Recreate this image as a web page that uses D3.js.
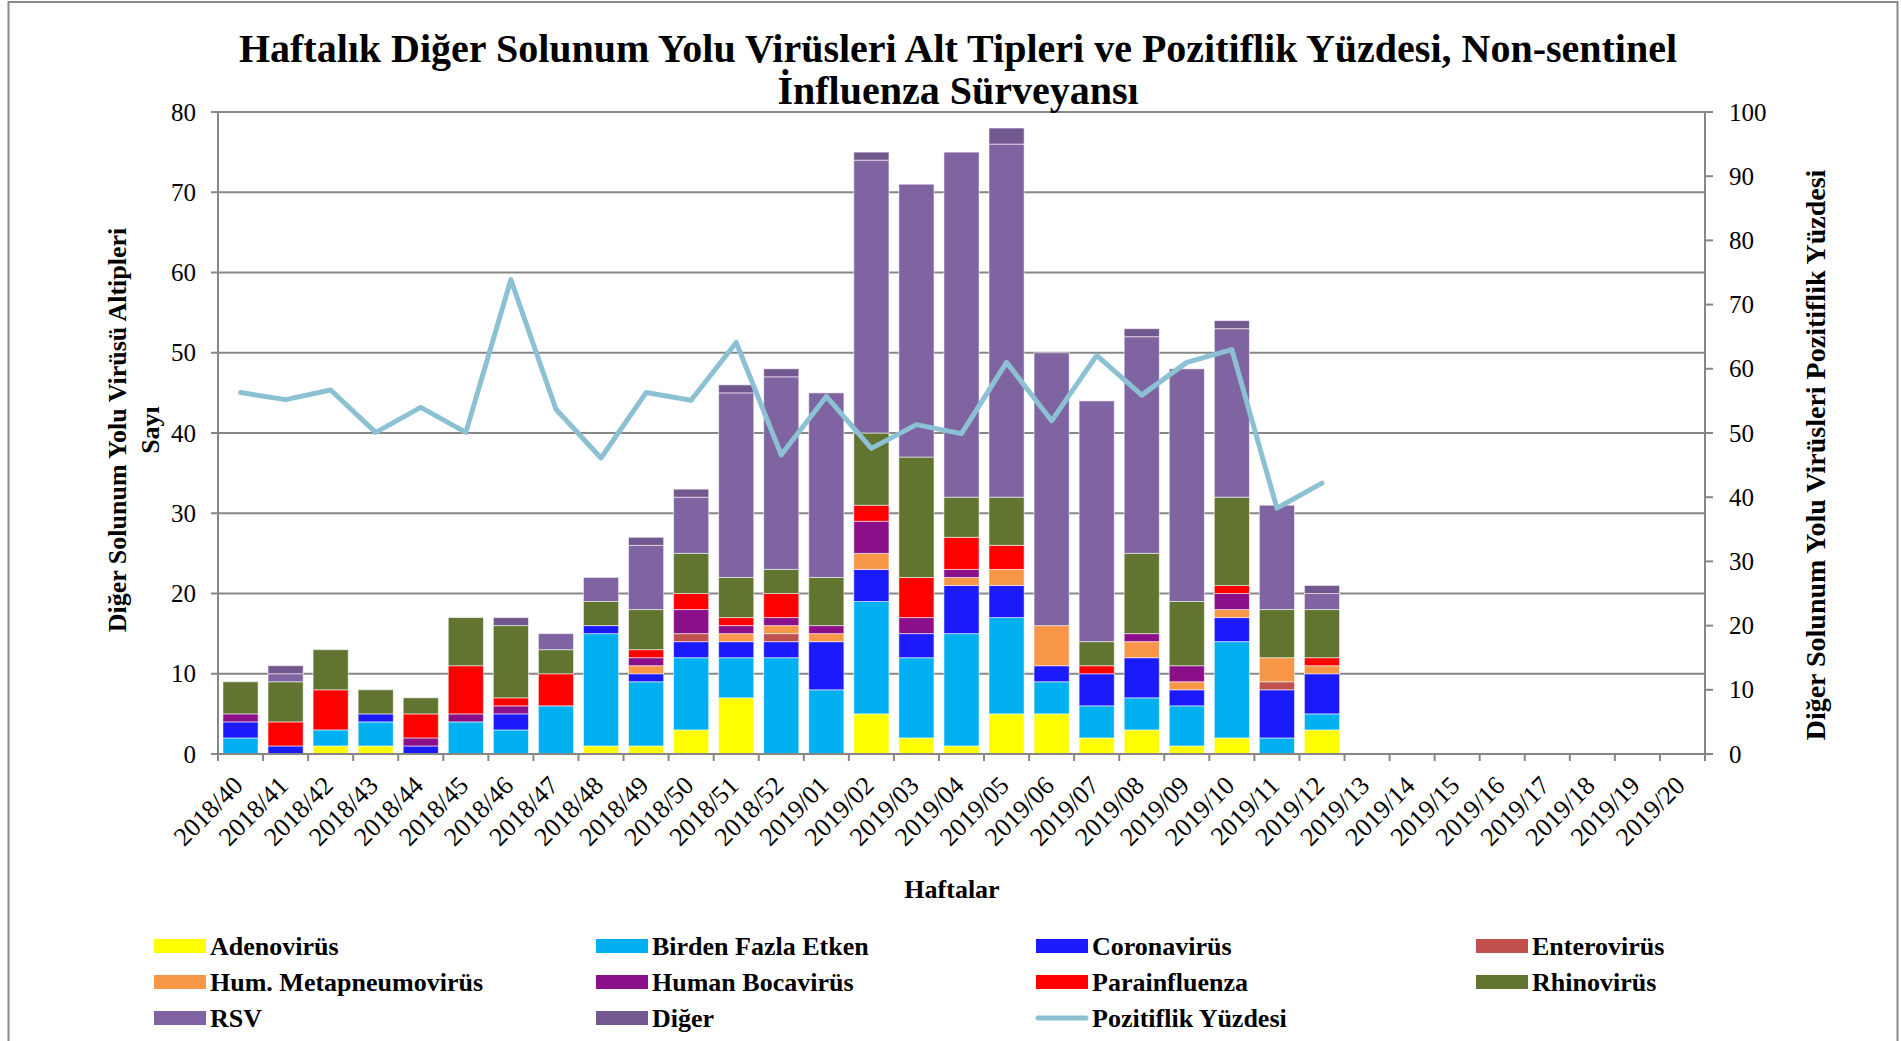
<!DOCTYPE html>
<html>
<head>
<meta charset="utf-8">
<script src="https://cdn.jsdelivr.net/npm/d3@7/dist/d3.min.js"></script>
<style>
    body { margin: 0; background: #fff; }
    svg { display: block; font-family: "Liberation Serif", "Times New Roman", serif; }
</style>
</head>
<body>
<svg id="chart" width="1901" height="1041"></svg>
<script>
const weeks = ["2018/40", "2018/41", "2018/42", "2018/43", "2018/44", "2018/45", "2018/46", "2018/47",
    "2018/48", "2018/49", "2018/50", "2018/51", "2018/52", "2019/01", "2019/02", "2019/03", "2019/04",
    "2019/05", "2019/06", "2019/07", "2019/08", "2019/09", "2019/10", "2019/11", "2019/12", "2019/13",
    "2019/14", "2019/15", "2019/16", "2019/17", "2019/18", "2019/19", "2019/20"]

// haftalık sayılar (2018/40 - 2019/12)
const adenovirus    = [0, 0, 1, 1, 0, 0, 0, 0, 1, 1, 3, 7, 0, 0, 5, 2, 1, 5, 5, 2, 3, 1, 2, 0, 3]
const birdenFazla   = [2, 0, 2, 3, 0, 4, 3, 6, 14, 8, 9, 5, 12, 8, 14, 10, 14, 12, 4, 4, 4, 5, 12, 2, 2]
const coronavirus   = [2, 1, 0, 1, 1, 0, 2, 0, 1, 1, 2, 2, 2, 6, 4, 3, 6, 4, 2, 4, 5, 2, 3, 6, 5]
const enterovirus   = [0, 0, 0, 0, 0, 0, 0, 0, 0, 0, 1, 0, 1, 0, 0, 0, 0, 0, 0, 0, 0, 0, 0, 1, 0]
const metapneumo    = [0, 0, 0, 0, 0, 0, 0, 0, 0, 1, 0, 1, 1, 1, 2, 0, 1, 2, 5, 0, 2, 1, 1, 3, 1]
const bocavirus     = [1, 0, 0, 0, 1, 1, 1, 0, 0, 1, 3, 1, 1, 1, 4, 2, 1, 0, 0, 0, 1, 2, 2, 0, 0]
const parainfluenza = [0, 3, 5, 0, 3, 6, 1, 4, 0, 1, 2, 1, 3, 0, 2, 5, 4, 3, 0, 1, 0, 0, 1, 0, 1]
const rhinovirus    = [4, 5, 5, 3, 2, 6, 9, 3, 3, 5, 5, 5, 3, 6, 9, 15, 5, 6, 0, 3, 10, 8, 11, 6, 6]
const rsv           = [0, 1, 0, 0, 0, 0, 0, 2, 3, 8, 7, 23, 24, 23, 34, 34, 43, 44, 34, 30, 27, 29, 21, 13, 2]
const diger         = [0, 1, 0, 0, 0, 0, 1, 0, 0, 1, 1, 1, 1, 0, 1, 0, 0, 2, 0, 0, 1, 0, 1, 0, 1]

// pozitiflik yüzdesi (%)
const pozitiflik = [56.3, 55.2, 56.7, 50.1, 54.0, 50.1, 73.9, 53.7, 46.1, 56.3, 55.1, 64.1, 46.6,
    55.7, 47.6, 51.3, 49.9, 61.0, 51.9, 62.1, 55.9, 61.0, 63.0, 38.3, 42.2]

const leftTicks = [0, 10, 20, 30, 40, 50, 60, 70, 80]
const rightTicks = [0, 10, 20, 30, 40, 50, 60, 70, 80, 90, 100]

const series = [
    { name: "Adenovirüs", values: adenovirus, color: "#FFFF00" },
    { name: "Birden Fazla Etken", values: birdenFazla, color: "#00B0F0" },
    { name: "Coronavirüs", values: coronavirus, color: "#1A1AFA" },
    { name: "Enterovirüs", values: enterovirus, color: "#C0504D" },
    { name: "Hum. Metapneumovirüs", values: metapneumo, color: "#F79646" },
    { name: "Human Bocavirüs", values: bocavirus, color: "#8A0F88" },
    { name: "Parainfluenza", values: parainfluenza, color: "#FF0000" },
    { name: "Rhinovirüs", values: rhinovirus, color: "#617430" },
    { name: "RSV", values: rsv, color: "#8064A2" },
    { name: "Diğer", values: diger, color: "#71588F" }
]
const lineColor = "#8CC1D4"
const gridColor = "#878787"

const svg = d3.select("#chart")
const plot = { left: 218, right: 1705, top: 112, bottom: 754 }

const x = d3.scaleBand().domain(weeks).range([plot.left, plot.right]).paddingInner(0.22).paddingOuter(0.11)
const y = d3.scaleLinear().domain([0, 80]).range([plot.bottom, plot.top])
const y2 = d3.scaleLinear().domain([0, 100]).range([plot.bottom, plot.top])

// dış çerçeve
svg.append("rect")
    .attr("x", 8.5).attr("y", 2).attr("width", 1889).attr("height", 1100)
    .attr("fill", "none").attr("stroke", "#898989").attr("stroke-width", 2)

// ızgara
svg.append("g").selectAll("line")
    .data(leftTicks.slice(1))
    .enter().append("line")
    .attr("x1", plot.left).attr("x2", plot.right)
    .attr("y1", d => y(d)).attr("y2", d => y(d))
    .attr("stroke", gridColor).attr("stroke-width", 2)

// yığılmış çubuklar
const rows = adenovirus.map((v, i) => {
    let row = { week: weeks[i] }
    series.forEach(s => { row[s.name] = s.values[i] })
    return row
})
const stacked = d3.stack().keys(series.map(s => s.name))(rows)

svg.append("g").selectAll("g")
    .data(stacked)
    .enter().append("g")
    .attr("fill", (d, i) => series[i].color)
    .selectAll("rect")
    .data(d => d.filter(p => p[1] > p[0]))
    .enter().append("rect")
    .attr("x", d => x(d.data.week))
    .attr("width", x.bandwidth())
    .attr("y", d => y(d[1]))
    .attr("height", d => y(d[0]) - y(d[1]))
    .attr("stroke", "rgba(255,255,255,0.55)")
    .attr("stroke-width", 1)

// eksenler
const axisG = svg.append("g").attr("stroke", gridColor).attr("stroke-width", 2)
axisG.append("line").attr("x1", plot.left).attr("x2", plot.left).attr("y1", plot.top).attr("y2", plot.bottom + 7)
axisG.append("line").attr("x1", plot.right).attr("x2", plot.right).attr("y1", plot.top).attr("y2", plot.bottom + 7)
axisG.append("line").attr("x1", plot.left).attr("x2", plot.right).attr("y1", plot.bottom).attr("y2", plot.bottom)

axisG.selectAll(".lt").data(leftTicks).enter().append("line")
    .attr("x1", plot.left - 7).attr("x2", plot.left)
    .attr("y1", d => y(d)).attr("y2", d => y(d))
axisG.selectAll(".rt").data(rightTicks).enter().append("line")
    .attr("x1", plot.right).attr("x2", plot.right + 8)
    .attr("y1", d => y2(d)).attr("y2", d => y2(d))
axisG.selectAll(".bt").data(weeks).enter().append("line")
    .attr("x1", d => x(d) - x.step() * x.paddingInner() / 2)
    .attr("x2", d => x(d) - x.step() * x.paddingInner() / 2)
    .attr("y1", plot.bottom).attr("y2", plot.bottom + 7)

svg.append("g").selectAll("text")
    .data(leftTicks).enter().append("text")
    .attr("x", plot.left - 22).attr("y", d => y(d)).attr("dy", "0.34em")
    .attr("text-anchor", "end").attr("font-size", 25)
    .text(d => d)

svg.append("g").selectAll("text")
    .data(rightTicks).enter().append("text")
    .attr("x", plot.right + 24).attr("y", d => y2(d)).attr("dy", "0.34em")
    .attr("font-size", 25)
    .text(d => d)

svg.append("g").selectAll("text")
    .data(weeks).enter().append("text")
    .attr("transform", d => "translate(" + (x(d) + x.bandwidth() / 2 + 4) + "," + 787 + ") rotate(-45)")
    .attr("text-anchor", "end").attr("font-size", 26)
    .text(d => d)

// pozitiflik çizgisi
const line = d3.line()
    .x((d, i) => x(weeks[i]) + x.bandwidth() / 2)
    .y(d => y2(d))

svg.append("path")
    .datum(pozitiflik)
    .attr("d", line)
    .attr("fill", "none")
    .attr("stroke", lineColor)
    .attr("stroke-width", 5)
    .attr("stroke-linejoin", "round")
    .attr("stroke-linecap", "round")

// başlıklar
const title = svg.append("text").attr("text-anchor", "middle").attr("font-weight", "bold").attr("font-size", 40)
title.append("tspan").attr("x", 958).attr("y", 62).text("Haftalık Diğer Solunum Yolu Virüsleri Alt Tipleri ve Pozitiflik Yüzdesi, Non-sentinel")
title.append("tspan").attr("x", 958).attr("y", 104).text("İnfluenza Sürveyansı")

svg.append("text")
    .attr("x", 952).attr("y", 898)
    .attr("text-anchor", "middle").attr("font-weight", "bold").attr("font-size", 26)
    .text("Haftalar")

const leftTitle = svg.append("text")
    .attr("transform", "translate(126,430) rotate(-90)")
    .attr("text-anchor", "middle").attr("font-weight", "bold").attr("font-size", 26)
leftTitle.append("tspan").attr("x", 0).attr("y", 0).text("Diğer Solunum Yolu Virüsü Altipleri")
leftTitle.append("tspan").attr("x", 0).attr("y", 33).text("Sayı")

svg.append("text")
    .attr("transform", "translate(1825,455) rotate(-90)")
    .attr("text-anchor", "middle").attr("font-weight", "bold").attr("font-size", 28)
    .text("Diğer Solunum Yolu Virüsleri Pozitiflik Yüzdesi")

// lejant
const legendItems = series.map(s => ({ name: s.name, color: s.color, type: "rect" }))
legendItems.push({ name: "Pozitiflik Yüzdesi", color: lineColor, type: "line" })
const colX = [154, 596, 1036, 1476]
const rowY = [946, 982, 1018]

const legend = svg.append("g").selectAll("g")
    .data(legendItems)
    .enter().append("g")
    .attr("transform", (d, i) => "translate(" + colX[i % 4] + "," + rowY[Math.floor(i / 4)] + ")")

legend.filter(d => d.type == "rect").append("rect")
    .attr("x", 0).attr("y", -7).attr("width", 52).attr("height", 14)
    .attr("fill", d => d.color)
legend.filter(d => d.type == "line").append("line")
    .attr("x1", 2).attr("x2", 50).attr("y1", 0).attr("y2", 0)
    .attr("stroke", d => d.color).attr("stroke-width", 5).attr("stroke-linecap", "round")
legend.append("text")
    .attr("x", 56).attr("y", 0).attr("dy", "0.34em")
    .attr("font-weight", "bold").attr("font-size", 26)
    .text(d => d.name)
</script>
</body>
</html>
